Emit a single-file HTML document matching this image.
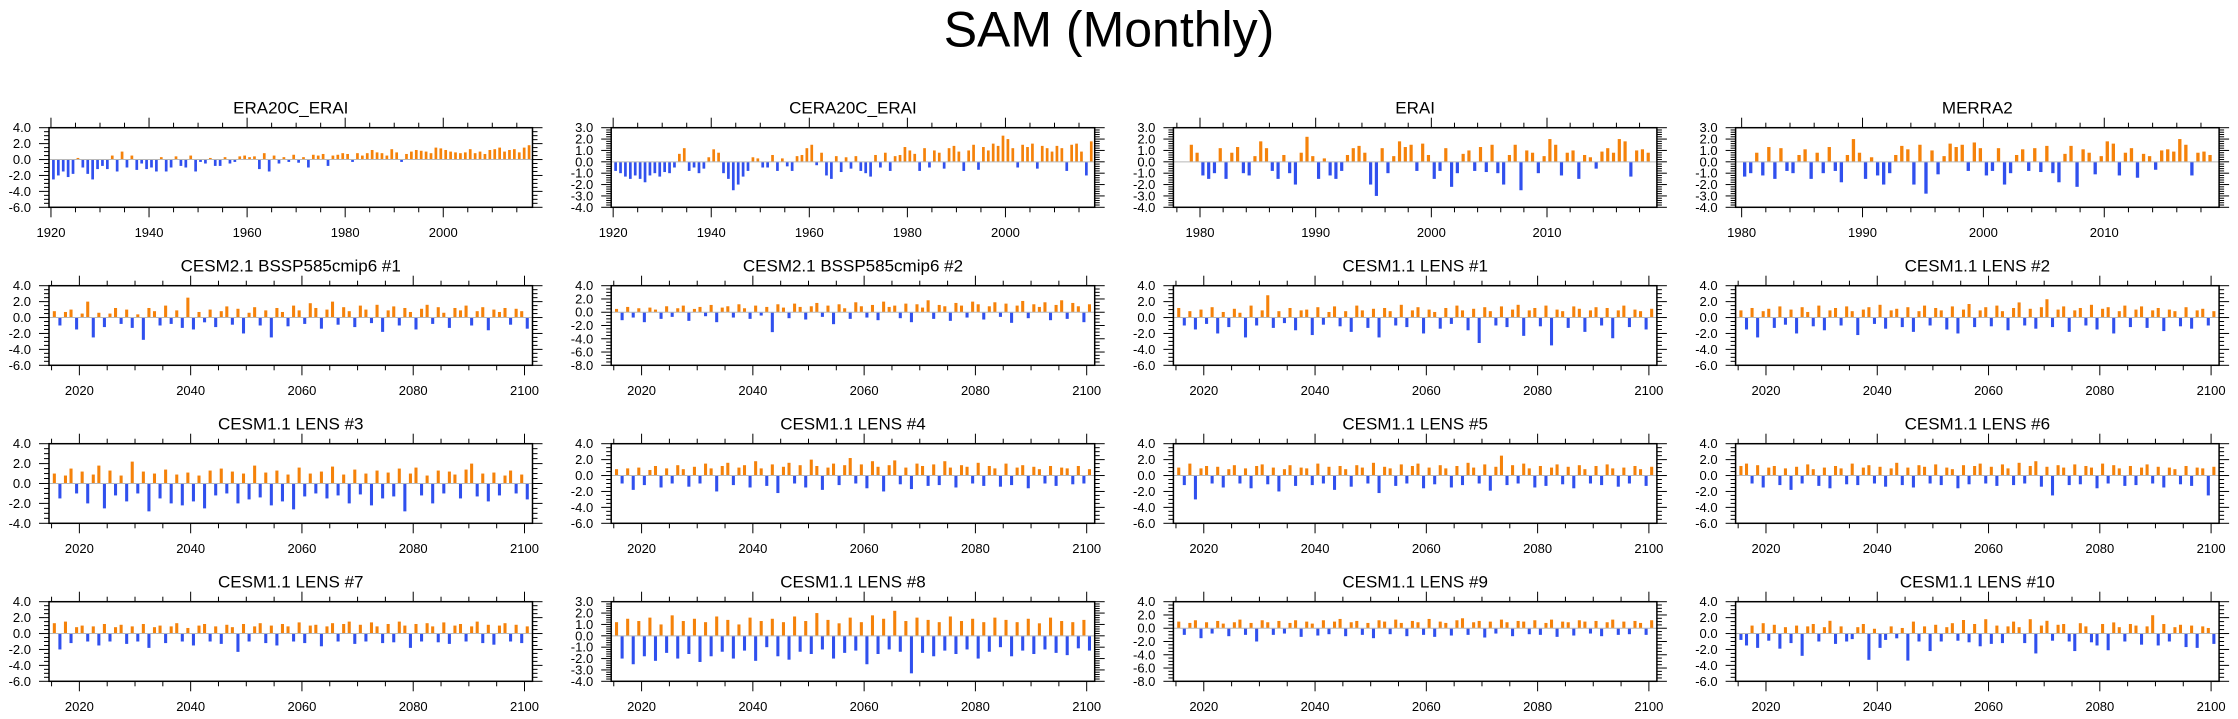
<!DOCTYPE html>
<html>
<head>
<meta charset="utf-8">
<style>
  html,body{margin:0;padding:0;background:#fff;}
  svg{display:block;font-family:"Liberation Sans",Arial,sans-serif;}
</style>
</head>
<body>
<svg id="chart" width="2238" height="719" viewBox="0 0 2238 719" xmlns="http://www.w3.org/2000/svg">
  <text x="1109" y="46.5" text-anchor="middle" font-size="50">SAM (Monthly)</text>
</svg>
<script>
// ---------- data ----------
const panelTitles = ["ERA20C_ERAI","CERA20C_ERAI","ERAI","MERRA2",
  "CESM2.1 BSSP585cmip6 #1","CESM2.1 BSSP585cmip6 #2","CESM1.1 LENS #1","CESM1.1 LENS #2",
  "CESM1.1 LENS #3","CESM1.1 LENS #4","CESM1.1 LENS #5","CESM1.1 LENS #6",
  "CESM1.1 LENS #7","CESM1.1 LENS #8","CESM1.1 LENS #9","CESM1.1 LENS #10"];
const yMins  = [-6,-4,-4,-4, -6,-8,-6,-6, -4,-6,-6,-6, -6,-4,-8,-6];
const yMaxs  = [ 4, 3, 3, 3,  4, 4, 4, 4,  4, 4, 4, 4,  4, 3, 4, 4];
const ySteps = [ 2, 1, 1, 1,  2, 2, 2, 2,  2, 2, 2, 2,  2, 1, 2, 2];
const dataStartYears = [1920,1920,1979,1980, 2015,2015,2015,2015, 2015,2015,2015,2015, 2015,2015,2015,2015];
const samplesPerYear = [1,1,2,2, 1,1,1,1, 1,1,1,1, 1,1,1,1];
const axisStartYears = [1919.6,1919.6,1977.7,1979.5];
const axisEndYears   = [2018.2,2018.2,2019.5,2019.5];
const modelAxisStart = 2014.54, modelAxisEnd = 2101.44;

const sERA20C = [-2.5,-2.0,-1.5,-2.2,-1.8,0.2,-1.0,-1.8,-2.5,-1.2,-0.8,-1.2,0.5,-1.5,1.0,-1.0,0.5,-1.3,-0.5,-1.2,-1.0,-1.5,0.3,-1.5,-1.0,0.4,-0.8,-1.0,0.5,-1.5,-0.3,-0.5,0.2,-0.8,-0.8,0.3,-0.5,-0.3,0.4,0.5,0.3,0.4,-1.2,0.8,-1.5,0.5,-0.5,0.3,-0.3,0.6,-0.4,0.3,-1.0,0.6,0.5,0.7,-0.8,0.5,0.6,0.8,0.7,-0.3,0.8,0.5,0.8,1.2,0.9,0.8,0.5,1.3,0.9,-0.3,0.7,1.0,1.2,1.1,1.0,0.8,1.5,1.4,1.2,1.0,0.9,0.8,0.9,1.3,0.8,1.0,0.7,1.2,1.3,1.5,1.0,1.2,1.3,0.9,1.5,1.8,1.2];
const sCERA20C = [-0.8,-1.0,-1.3,-1.5,-1.2,-1.5,-1.8,-1.2,-1.0,-1.3,-0.9,-1.0,-0.5,0.7,1.2,-0.8,-0.5,-1.0,-0.6,0.4,1.1,0.8,-1.0,-1.5,-2.5,-2.0,-1.3,-0.8,0.4,0.3,-0.5,-0.5,0.6,-0.8,0.3,-0.4,-0.8,0.5,0.6,1.2,1.5,-0.3,0.8,-1.2,-1.5,0.5,-0.9,0.4,-0.6,0.5,-0.8,-1.0,-1.3,0.6,-0.5,0.8,-0.8,0.5,0.6,1.3,1.0,0.7,-0.8,1.2,-0.5,1.0,0.8,-0.6,1.2,1.4,0.9,-0.8,1.0,1.5,-0.7,1.3,1.0,1.6,1.4,2.3,2.0,1.2,-0.5,1.5,1.3,1.6,-0.6,1.4,1.2,0.9,1.4,1.2,-0.8,1.5,1.6,0.9,-1.2,1.8,1.3];
const sERAI = [1.5,0.8,-1.2,-1.5,-1.0,1.2,-1.5,0.8,1.3,-1.0,-1.2,0.5,1.8,1.2,-0.8,-1.5,0.6,-1.0,-2.0,0.8,2.2,0.5,-1.5,0.3,-1.2,-1.5,-0.8,0.6,1.2,1.4,0.8,-2.0,-3.0,1.2,-1.0,0.5,1.8,1.3,1.5,-0.8,1.6,0.6,-1.5,-0.8,1.2,-2.2,-1.0,0.7,1.0,-0.8,1.3,-0.9,1.5,-1.0,-2.0,0.6,1.5,-2.5,1.0,0.8,-1.0,0.5,2.0,1.5,-1.2,0.8,1.0,-1.5,0.6,0.4,-0.6,0.9,1.2,0.8,2.0,1.8,-1.3,1.0,1.1,0.8];
const sMERRA2 = [-1.3,-1.0,0.8,-1.2,1.3,-1.5,1.2,-0.8,-1.0,0.6,1.1,-1.5,0.8,-1.0,1.3,-0.8,-1.8,0.6,2.0,0.8,-1.5,0.4,-1.2,-2.0,-1.0,0.6,1.4,1.1,-2.0,1.5,-2.8,1.0,-1.1,0.5,1.6,1.3,1.5,-0.8,1.7,1.2,-1.2,-0.8,1.2,-2.0,-1.0,0.6,1.1,-0.8,1.2,-0.9,1.4,-1.0,-1.8,0.7,1.4,-2.2,1.1,0.8,-1.1,0.5,1.8,1.6,-1.2,0.8,1.2,-1.4,0.7,0.5,-0.7,1.0,1.1,0.9,2.0,1.5,-1.2,0.8,0.9,0.6];
const sCESM2a = [0.8,-1.0,0.7,1.0,-1.5,0.5,2.0,-2.5,0.6,-1.2,0.5,1.2,-0.8,1.0,-1.3,0.4,-2.8,1.2,0.8,-1.0,1.5,-0.8,0.9,-1.3,2.5,-1.5,0.7,-0.6,1.0,-1.2,0.8,1.4,-0.9,1.1,-2.0,0.6,1.3,-1.0,0.9,-2.5,1.2,0.7,-1.1,1.5,0.9,-0.8,1.8,1.2,-1.4,1.0,2.0,-0.9,1.3,0.8,-1.2,1.5,1.0,-0.7,1.6,-1.8,0.9,1.4,-1.0,1.2,0.7,-1.5,1.1,1.6,-0.8,1.3,0.6,-1.3,1.2,0.9,1.5,-1.0,0.8,1.3,-1.6,1.0,0.7,1.2,-0.9,1.1,0.8,-1.4];
const sCESM2b = [0.5,-1.2,0.8,-0.8,0.6,-1.5,0.7,0.4,-1.0,0.9,-0.7,0.6,1.0,-1.3,0.5,0.8,-0.6,1.1,-1.5,0.7,0.9,-0.8,1.2,0.6,-1.0,1.0,-0.5,0.8,-3.0,1.2,0.7,-0.9,1.3,0.8,-1.1,0.9,1.4,-0.7,1.0,-1.8,1.2,0.6,-1.0,1.5,0.9,-0.8,1.1,-1.2,1.6,0.8,1.0,-0.9,1.3,-1.5,1.2,0.7,1.8,-1.0,1.1,0.9,-1.3,1.4,1.0,-0.8,1.6,1.2,-1.1,0.9,1.5,-0.7,1.3,-1.6,1.0,1.7,-0.9,1.2,0.8,1.5,-1.2,1.1,1.8,-1.0,1.4,0.9,-1.5,1.2];
const sLENS1 = [1.2,-1.0,0.8,-1.5,1.0,-0.8,1.3,-2.0,0.7,-1.2,1.1,0.6,-2.5,1.5,-1.0,0.9,2.8,-1.3,0.8,-0.7,1.2,-1.6,0.9,1.0,-2.2,1.3,-0.9,0.7,1.4,-1.1,0.8,-1.8,1.5,0.9,-1.3,1.1,-2.5,1.2,0.8,-1.0,1.6,-1.2,0.9,1.3,-2.0,1.0,0.7,-1.4,1.2,-0.8,1.5,0.9,-1.6,1.1,-3.2,1.3,0.8,-1.0,1.4,-1.2,1.0,1.6,-2.3,0.9,1.2,-1.1,1.5,-3.5,1.0,0.8,-1.3,1.4,1.1,-1.8,0.9,1.3,-1.0,1.2,-2.6,0.9,1.5,-1.2,1.0,0.8,-1.5,1.1];
const sLENS2 = [0.9,-1.5,1.2,-2.5,0.8,1.1,-1.3,1.4,-0.9,1.0,-2.0,1.3,0.7,-1.1,1.5,-1.6,0.9,1.2,-1.0,1.4,0.8,-2.2,1.0,1.3,-0.8,1.6,-1.4,0.9,1.1,-1.2,1.3,-1.8,0.8,1.5,-1.0,1.2,0.9,-1.5,1.4,-2.0,1.0,1.7,-1.2,0.9,1.3,-1.1,1.5,0.8,-1.6,1.2,1.9,-1.0,1.1,-1.4,1.3,2.3,-1.2,1.0,1.4,-1.8,0.9,1.2,-1.0,1.6,-1.5,1.1,1.3,-2.0,0.8,1.5,-1.2,1.0,1.4,-1.3,0.9,1.2,-1.7,1.0,0.8,-1.1,1.3,-1.4,0.9,1.1,-1.0,0.8];
const sLENS3 = [1.0,-1.5,0.8,1.5,-1.0,1.2,-2.0,0.9,1.8,-2.5,1.3,-1.2,0.8,-1.8,2.2,-1.0,1.2,-2.8,1.0,-1.5,1.4,-2.0,0.9,-2.2,1.1,-1.8,0.8,-2.5,1.3,-1.2,1.5,-1.0,1.2,-2.0,1.0,-1.6,1.8,-1.4,1.1,-2.2,1.3,-1.8,0.9,-2.6,1.6,-1.3,1.0,-1.0,1.2,-1.5,1.7,-1.2,0.9,-2.0,1.4,-1.1,1.0,-2.2,1.3,-1.5,1.1,-1.3,1.5,-2.8,1.0,1.6,-1.2,0.8,-2.0,1.3,-1.0,1.2,0.9,-1.5,1.4,2.0,-1.3,1.0,-1.8,1.1,-1.2,0.8,1.3,-1.0,0.9,-1.6];
const sLENS4 = [0.8,-1.0,0.9,-1.8,1.0,-1.2,0.7,1.2,-1.5,0.9,-1.0,1.3,0.8,-1.4,1.1,-1.0,1.5,0.9,-2.0,1.2,1.6,-1.2,1.0,1.3,-1.5,1.8,0.9,-1.3,1.4,-2.2,1.1,1.6,-1.0,1.3,-1.5,2.0,1.2,-1.8,1.0,1.5,-1.2,1.3,2.2,-1.0,1.4,-1.6,1.8,1.1,-2.0,1.3,1.9,-1.1,1.0,-1.7,1.5,1.2,-1.3,1.4,-1.2,1.8,1.0,-1.5,1.3,1.1,-1.0,1.6,-1.3,1.2,0.9,-1.4,1.5,-1.2,1.0,1.3,-1.6,1.1,0.8,-1.0,1.2,-1.3,1.0,0.9,-1.1,1.2,-1.0,0.8];
const sLENS5 = [1.0,-1.2,1.5,-3.0,0.9,1.2,-1.0,1.1,-1.5,0.8,1.3,-1.0,0.9,-1.6,1.2,1.4,-1.1,1.0,-2.0,0.8,1.3,-1.3,1.0,0.9,-1.2,1.5,-1.0,1.1,-1.8,1.2,0.8,-1.4,1.3,1.0,-1.0,1.6,-2.2,1.1,0.9,-1.3,1.4,-1.0,1.2,1.5,-1.6,1.0,-1.1,1.3,0.9,-1.5,1.2,-1.2,1.6,1.0,-1.0,1.4,-1.9,1.1,2.5,-1.2,1.3,-1.0,1.5,0.9,-1.5,1.2,-1.3,1.0,1.4,-1.1,1.1,-1.6,1.3,0.8,-1.0,1.2,-1.2,1.4,0.9,-1.4,1.0,-1.0,1.2,0.8,-1.3,1.1];
const sLENS6 = [1.2,1.5,-1.0,1.3,-1.5,1.0,1.2,-1.2,0.9,-1.8,1.1,-1.0,1.4,0.8,-1.3,1.0,-1.6,1.2,0.9,-1.1,1.5,-1.2,1.0,1.3,-1.0,1.1,-1.4,0.9,1.6,-1.2,1.0,-1.5,1.3,1.1,-1.0,1.4,-1.2,1.0,0.8,-1.6,1.3,-1.1,1.2,1.5,-1.0,1.1,-1.3,1.4,0.9,-1.2,1.6,-1.0,1.2,1.8,-1.4,1.1,-2.5,1.3,1.0,-1.2,1.4,-1.1,1.2,1.0,-1.6,1.5,-1.0,1.3,0.9,-1.3,1.2,-1.2,1.0,1.4,-1.0,1.1,-1.5,1.0,0.8,-1.1,1.2,-1.3,1.0,0.9,-2.5,1.1];
const sLENS7 = [1.3,-2.0,1.5,-1.2,0.8,1.0,-1.0,0.9,-1.5,1.2,-1.0,0.8,1.1,-1.3,0.9,-1.0,1.2,-1.8,0.8,1.0,-1.2,0.9,1.3,-1.0,0.7,-1.5,1.0,1.2,-1.0,0.9,-1.3,1.1,0.8,-2.3,1.2,-1.0,0.9,1.3,-1.2,1.0,-1.5,1.2,0.9,-1.0,1.4,-1.2,1.0,1.1,-1.6,0.9,1.3,-1.0,1.2,1.5,-1.3,1.1,-1.0,1.4,0.9,-1.2,1.2,-1.1,1.5,1.0,-1.8,1.2,-1.0,1.3,0.9,-1.1,1.4,-1.3,1.0,1.2,-1.0,0.9,1.5,-1.2,1.1,-1.4,1.0,1.3,-1.0,1.1,-1.2,0.9];
const sLENS8 = [1.2,-2.0,1.5,-2.5,1.3,-1.8,1.6,-2.2,1.0,-1.5,1.8,-2.0,1.3,-1.6,1.5,-2.3,1.2,-1.8,1.7,-1.4,1.4,-2.0,1.0,-1.3,1.6,-2.2,1.3,-1.0,1.5,-1.8,1.2,-2.1,1.7,-1.4,1.3,-1.6,2.0,-1.2,1.4,-2.0,1.1,-1.5,1.6,-1.3,1.2,-2.5,1.8,-1.6,1.5,-1.2,2.2,-1.4,1.3,-3.3,1.6,-1.5,1.4,-1.8,1.2,-1.3,1.7,-1.6,1.3,-1.2,1.5,-2.0,1.2,-1.4,1.6,-1.0,1.4,-1.8,1.2,-1.3,1.5,-1.6,1.1,-1.2,1.6,-1.5,1.3,-1.7,1.2,-1.1,1.4,-1.3];
const sLENS9 = [1.0,-1.0,0.8,1.2,-1.5,0.9,-0.8,1.1,0.7,-1.2,0.9,1.3,-1.0,0.8,-2.0,1.2,0.9,-1.0,1.1,-0.8,0.8,1.2,-1.3,1.0,0.7,-1.1,1.2,-0.9,1.0,1.4,-1.2,0.9,1.1,-1.0,0.8,-1.5,1.2,1.0,-0.9,1.3,0.8,-1.2,1.1,0.9,-1.0,1.4,-1.3,1.0,0.8,-1.1,1.2,1.5,-1.0,0.9,1.1,-1.4,1.0,-0.8,1.3,0.9,-1.2,1.1,1.0,-0.9,1.2,-1.0,0.8,1.3,-1.3,1.0,0.9,-1.1,1.2,1.0,-0.8,1.1,-1.2,0.9,1.3,-1.0,1.0,-0.9,1.1,0.8,-1.0,1.2];
const sLENS10 = [-0.8,-1.5,1.0,-1.8,1.3,-0.9,1.1,-1.9,0.8,-1.2,1.0,-2.8,0.9,1.2,-1.0,0.8,1.6,-1.3,0.9,-1.0,-0.7,0.8,1.2,-3.3,0.6,-1.8,-0.8,0.9,-0.6,0.7,-3.4,1.5,-1.0,0.9,-2.2,1.1,-1.0,0.8,1.3,-0.9,1.7,-1.1,1.2,-1.6,1.8,-1.3,1.0,-1.2,0.9,1.5,0.8,-1.2,1.8,-2.5,1.0,1.6,-0.9,1.1,1.2,-1.0,-2.2,1.3,0.9,-1.1,-1.5,1.2,-2.1,1.4,0.8,-1.0,1.2,1.0,-1.4,0.9,2.3,-1.5,1.2,-1.0,0.8,1.1,-1.7,1.0,-1.8,0.9,0.7,-1.3];
const seriesList = [sERA20C,sCERA20C,sERAI,sMERRA2,sCESM2a,sCESM2b,sLENS1,sLENS2,sLENS3,sLENS4,sLENS5,sLENS6,sLENS7,sLENS8,sLENS9,sLENS10];

// ---------- drawing ----------
const NS = "http://www.w3.org/2000/svg";
const svg = document.getElementById("chart");
function mk(tag, attrs, parent){
  const e = document.createElementNS(NS, tag);
  for (const k in attrs) e.setAttribute(k, attrs[k]);
  (parent||svg).appendChild(e);
  return e;
}
const COL0 = 49, COLSTEP = 562.2, PW = 483.5;
const ROW0 = 127.7, ROWSTEP = 158, PH = 79.6;
const ORANGE = "#f5820a", BLUE = "#3050ee";

for (let p = 0; p < 16; p++){
  const r = Math.floor(p/4), c = p%4;
  const L = COL0 + c*COLSTEP, T = ROW0 + r*ROWSTEP, R = L + PW, B = T + PH;
  const x0 = r===0 ? axisStartYears[c] : modelAxisStart;
  const x1 = r===0 ? axisEndYears[c] : modelAxisEnd;
  const ymin = yMins[p], ymax = yMaxs[p], ystep = ySteps[p];
  const xs = yr => L + (yr - x0)/(x1 - x0)*PW;
  const ys = v => B - (v - ymin)/(ymax - ymin)*PH;

  const g = mk("g", {});
  
  

  const clip = mk("clipPath", {id:"clip"+p}, g);
  mk("rect", {x:L, y:T, width:PW, height:PH}, clip);

  const title = mk("text", {x:(L+R)/2, y:T-14, "text-anchor":"middle", "font-size":"17"}, g);
  title.textContent = panelTitles[p];
  
  

  const bars = mk("g", {"clip-path":"url(#clip"+p+")"}, g);
  
  
  const vals = seriesList[p], spy = samplesPerYear[p], start = dataStartYears[p];
  const bw = Math.max(1.2, (xs(start + 1/spy) - xs(start))*0.55);
  const z = ys(0);
  vals.forEach((v,i) => {
    const xc = xs(start + (i + 0.5)/spy);
    const yv = ys(v);
    const bar = mk("rect", {x:(xc-bw/2).toFixed(2), y:Math.min(yv,z).toFixed(2), width:bw.toFixed(2), height:Math.abs(yv-z).toFixed(2), fill: v>=0?ORANGE:BLUE}, bars);
    
    
  });
  const zl = mk("line", {x1:L, x2:R, y1:z, y2:z, stroke:"#b8b8b8", "stroke-width":"1"}, g);
  
  

  const box = mk("rect", {x:L, y:T, width:PW, height:PH, fill:"none", stroke:"#000", "stroke-width":"1.5"}, g);
  
  

  const yax = mk("g", {stroke:"#000", "stroke-width":"1"}, g);
  
  
  const minorStep = ystep===1 ? 0.2 : 0.5;
  const nMinor = Math.round((ymax - ymin)/minorStep);
  for (let k = 0; k <= nMinor; k++){
    const v = ymin + k*minorStep;
    const isMaj = Math.abs(v/ystep - Math.round(v/ystep)) < 1e-6;
    const len = isMaj ? 10 : 5;
    const y = ys(v);
    mk("line", {x1:L-len, x2:L, y1:y, y2:y}, yax);
    mk("line", {x1:R, x2:R+len, y1:y, y2:y}, yax);
  }
  for (let v = ymin; v <= ymax + 1e-6; v += ystep){
    const t = mk("text", {x:L-18, y:ys(v)+4.5, "text-anchor":"end", "font-size":"13", stroke:"none"}, g);
    t.textContent = v.toFixed(1);
    
    
  }

  const xax = mk("g", {stroke:"#000", "stroke-width":"1"}, g);
  
  
  const majX = (r===0 && c>=2) ? 10 : 20;
  const minX = (r===0 && c>=2) ? 2 : 5;
  for (let yr = Math.ceil(x0/minX)*minX; yr <= x1; yr += minX){
    const isMaj = yr % majX === 0;
    const len = isMaj ? 10 : 5;
    const x = xs(yr);
    mk("line", {x1:x, x2:x, y1:T-len, y2:T}, xax);
    mk("line", {x1:x, x2:x, y1:B, y2:B+len}, xax);
    if (isMaj){
      const t = mk("text", {x:x, y:B+29.5, "text-anchor":"middle", "font-size":"13", stroke:"none"}, g);
      t.textContent = String(yr);
      
      
    }
  }
}
</script>
</body>
</html>
